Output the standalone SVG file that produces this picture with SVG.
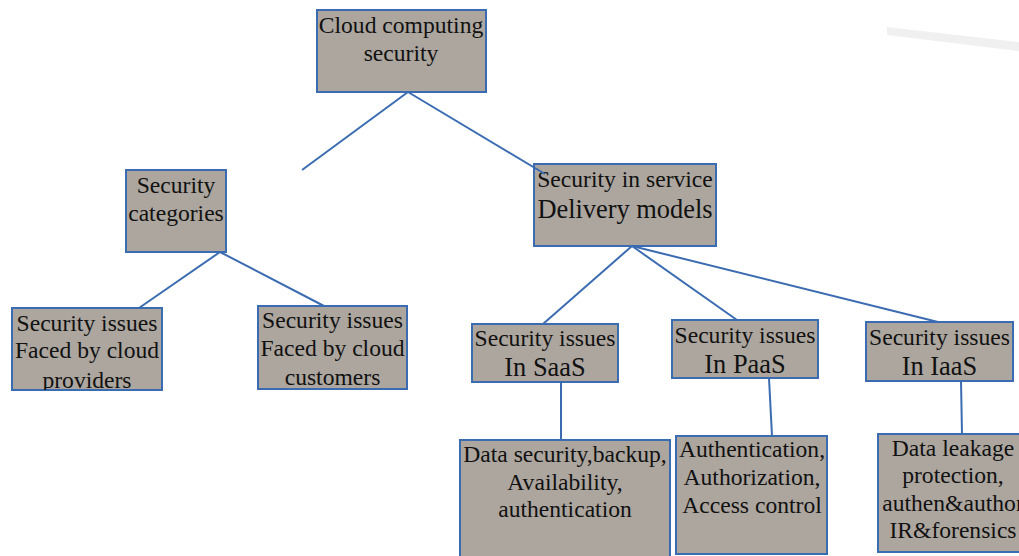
<svg xmlns="http://www.w3.org/2000/svg" width="1019" height="556" viewBox="0 0 1019 556">
<style>
.box{fill:#aca69f;stroke:#3b6cb2;stroke-width:2}
.ln{stroke:#3b6cb2;stroke-width:2;fill:none}
text{font-family:"Liberation Serif","Times New Roman",serif;font-size:23.6px;fill:#111;text-anchor:middle}
.big{font-size:26.4px}
</style>
<defs>
<clipPath id="cp1"><rect x="12" y="308" width="150" height="82"/></clipPath>
<clipPath id="cp2"><rect x="258" y="306" width="149" height="83"/></clipPath>
</defs>
<rect width="1019" height="556" fill="#fff"/>
<polygon points="887,27 1019,42 1019,51 887,35" fill="#f0f0f0"/>
<g id="n-root">
<rect class="box" x="317" y="10" width="169" height="82"/>
<text x="401" y="33">Cloud computing</text>
<text x="401" y="61">security</text>
</g>
<g id="n-service">
<rect class="box" x="534" y="164" width="182" height="82"/>
<text x="625" y="187">Security in service</text>
<text x="625" y="218" class="big">Delivery models</text>
</g>
<g id="n-categories">
<rect class="box" x="126" y="170" width="100" height="82"/>
<text x="176" y="193">Security</text>
<text x="176" y="221">categories</text>
</g>
<g id="n-providers">
<rect class="box" x="12" y="308" width="150" height="82"/>
<g clip-path="url(#cp1)">
<text x="87" y="331">Security issues</text>
<text x="87" y="358">Faced by cloud</text>
<text x="87" y="388">providers</text>
</g>
</g>
<g id="n-customers">
<rect class="box" x="258" y="306" width="149" height="83"/>
<g clip-path="url(#cp2)">
<text x="332.5" y="328">Security issues</text>
<text x="332.5" y="356">Faced by cloud</text>
<text x="332.5" y="385">customers</text>
</g>
</g>
<g id="n-saas">
<rect class="box" x="472" y="324" width="146" height="58"/>
<text x="545" y="346">Security issues</text>
<text x="545" y="376" class="big">In SaaS</text>
</g>
<g id="n-paas">
<rect class="box" x="672" y="320" width="146" height="58"/>
<text x="745" y="343">Security issues</text>
<text x="745" y="373" class="big">In PaaS</text>
</g>
<g id="n-iaas">
<rect class="box" x="866" y="322" width="147" height="59"/>
<text x="939.5" y="345">Security issues</text>
<text x="939.5" y="375" class="big">In IaaS</text>
</g>
<g id="n-saas-d">
<rect class="box" x="460" y="440" width="210" height="130"/>
<text x="565" y="462">Data security,backup,</text>
<text x="565" y="490">Availability,</text>
<text x="565" y="517">authentication</text>
</g>
<g id="n-paas-d">
<rect class="box" x="676" y="436" width="151" height="118"/>
<text x="752" y="457">Authentication,</text>
<text x="752" y="485">Authorization,</text>
<text x="752" y="513">Access control</text>
</g>
<g id="n-iaas-d">
<rect class="box" x="878" y="434" width="160" height="118"/>
<text x="953" y="456">Data leakage</text>
<text x="953" y="483">protection,</text>
<text x="953" y="511">authen&amp;author</text>
<text x="953" y="538">IR&amp;forensics</text>
</g>
<g id="connectors">
<line class="ln" x1="408" y1="92" x2="302" y2="170"/>
<line class="ln" x1="408" y1="92" x2="545" y2="174"/>
<line class="ln" x1="220" y1="252" x2="139" y2="308"/>
<line class="ln" x1="220" y1="252" x2="324" y2="306"/>
<line class="ln" x1="632" y1="246" x2="543" y2="324"/>
<line class="ln" x1="632" y1="246" x2="737" y2="320"/>
<line class="ln" x1="632" y1="246" x2="938" y2="322"/>
<line class="ln" x1="561" y1="382" x2="561" y2="440"/>
<line class="ln" x1="769" y1="378" x2="772" y2="436"/>
<line class="ln" x1="961" y1="381" x2="962" y2="434"/>
</g>
</svg>
